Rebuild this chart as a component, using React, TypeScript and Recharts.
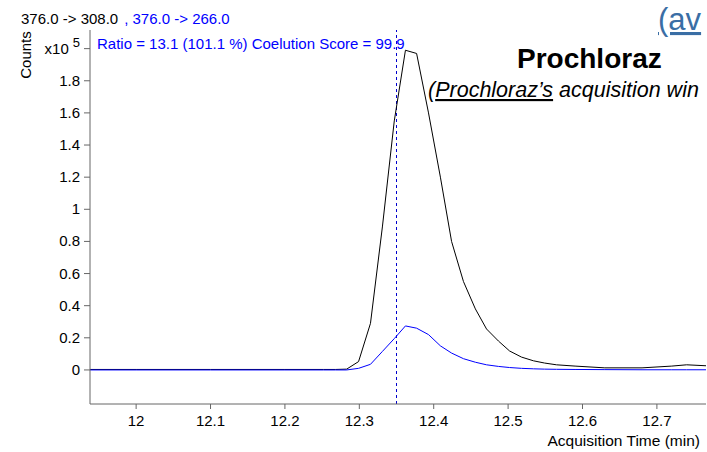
import { LineChart, Line, XAxis, YAxis, ReferenceLine } from "recharts";

// acquisition time (min)
const times = [
  11.938, 12.0, 12.1, 12.2, 12.252, 12.268, 12.283, 12.299, 12.315, 12.331,
  12.347, 12.362, 12.377, 12.393, 12.409, 12.424, 12.44, 12.456, 12.471,
  12.487, 12.502, 12.518, 12.534, 12.549, 12.565, 12.59, 12.63, 12.68, 12.72,
  12.74, 12.766,
];

// 376.0 -> 308.0 (x10^5 counts)
const quant = [
  0.003, 0.003, 0.003, 0.003, 0.003, 0.003, 0.005, 0.052, 0.29, 0.89, 1.55,
  1.99, 1.97, 1.6, 1.2, 0.8, 0.55, 0.38, 0.255, 0.18, 0.118, 0.08, 0.057,
  0.043, 0.032, 0.024, 0.013, 0.013, 0.024, 0.032, 0.026,
];

// 376.0 -> 266.0 (x10^5 counts)
const qual = [
  0, 0, 0, 0, 0, 0, 0, 0.01, 0.035, 0.115, 0.195, 0.274, 0.26, 0.22, 0.15,
  0.105, 0.07, 0.048, 0.032, 0.022, 0.015, 0.01, 0.007, 0.005, 0.004, 0.003,
  0.002, 0.001, 0.001, 0.001, 0.001,
];

const xTicks = [12, 12.1, 12.2, 12.3, 12.4, 12.5, 12.6, 12.7];
const yTicks = [0, 0.2, 0.4, 0.6, 0.8, 1, 1.2, 1.4, 1.6, 1.8, 2];
const markerTime = 12.35;

const data = times.map((t, i) => ({ t, quant: quant[i], qual: qual[i] }));

const FONT = '"Liberation Sans", Arial, sans-serif';

function YTick(props: any) {
  const { x, y, payload } = props;
  if (payload.value === 2) {
    return (
      <text x={x} y={y + 5} textAnchor="end" fontSize={15} fontFamily={FONT} fill="#000">
        x10
        <tspan dx={4} dy={-7} fontSize={13}>5</tspan>
      </text>
    );
  }
  return (
    <text x={x} y={y + 5} textAnchor="end" fontSize={15} fontFamily={FONT} fill="#000">
      {String(payload.value)}
    </text>
  );
}

export default function App() {
  return (
    <div style={{ position: "absolute", left: 0, top: 0, width: 707, height: 452, background: "#fff", overflow: "hidden" }}>
      <LineChart
        width={707}
        height={452}
        data={data}
        margin={{ top: 30, right: 1, bottom: 0, left: 0 }}
      >
        <XAxis
          dataKey="t"
          type="number"
          domain={[11.938, 12.766]}
          ticks={xTicks}
          allowDataOverflow
          height={48}
          tickSize={5}
          tickMargin={6}
          stroke="#666"
          tick={{ fill: "#000", fontSize: 15, fontFamily: FONT }}
        />
        <YAxis
          type="number"
          domain={[-0.212, 2.116]}
          ticks={yTicks}
          allowDataOverflow
          width={90}
          tickSize={6}
          tickMargin={4}
          stroke="#666"
          tick={<YTick />}
        />
        <ReferenceLine x={markerTime} stroke="#0000cc" strokeDasharray="3 3" strokeWidth={1} />
        <Line type="linear" dataKey="quant" stroke="#000" strokeWidth={1} dot={false} isAnimationActive={false} />
        <Line type="linear" dataKey="qual" stroke="#0000ff" strokeWidth={1} dot={false} isAnimationActive={false} />
      </LineChart>
      <svg width={707} height={452} style={{ position: "absolute", left: 0, top: 0, pointerEvents: "none" }} fontFamily={FONT}>
        <text x={21} y={24} fontSize={15} fill="#000">
          376.0 -&gt; 308.0
          <tspan fill="#0000ff" dx={6}>, 376.0 -&gt; 266.0</tspan>
        </text>
        <text x={97} y={49} fontSize={15} fill="#0000ff">
          Ratio = 13.1 (101.1 %) Coelution Score = 99.9
        </text>
        <text x={0} y={0} fontSize={15} fill="#000" textAnchor="middle" transform="translate(31 55) rotate(-90)">
          Counts
        </text>
        <text x={700} y={446} fontSize={15.5} fill="#000" textAnchor="end">
          Acquisition Time (min)
        </text>
        <text x={517} y={68} fontSize={28} fontWeight="bold" fill="#000">
          Prochloraz
        </text>
        <text x={428} y={97} fontSize={21.5} fontStyle="italic" fill="#000">
          (<tspan textDecoration="underline">Prochloraz’s</tspan> acquisition win
        </text>
        <text x={658} y={30} fontSize={31} fill="#3a6ea5" textDecoration="underline">
          (av
        </text>
      </svg>
    </div>
  );
}
